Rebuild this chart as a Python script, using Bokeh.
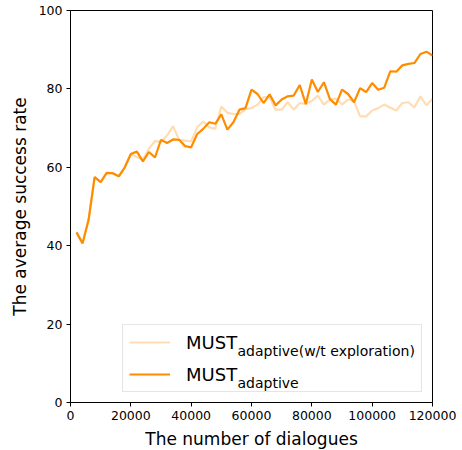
from bokeh.plotting import figure
from bokeh.models import (Range1d, FixedTicker, BasicTickFormatter, Legend,
                          LegendItem, Label)
from bokeh.embed import file_html
from bokeh.resources import INLINE

dialogues = [2000, 4000, 6000, 8000, 10000, 12000, 14000, 16000, 18000, 20000,
             22000, 24000, 26000, 28000, 30000, 32000, 34000, 36000, 38000, 40000,
             42000, 44000, 46000, 48000, 50000, 52000, 54000, 56000, 58000, 60000,
             62000, 64000, 66000, 68000, 70000, 72000, 74000, 76000, 78000, 80000,
             82000, 84000, 86000, 88000, 90000, 92000, 94000, 96000, 98000, 100000,
             102000, 104000, 106000, 108000, 110000, 112000, 114000, 116000, 118000, 120000]

must_adaptive = [43.4, 40.6, 46.6, 57.5, 56.2, 58.6, 58.5, 57.7, 60.0, 63.4,
                 64.0, 61.5, 63.9, 62.5, 67.0, 66.2, 67.1, 67.0, 65.4, 65.1,
                 68.5, 69.8, 71.5, 71.1, 73.5, 69.6, 71.5, 74.7, 75.1, 79.8,
                 78.7, 76.4, 78.6, 75.8, 77.3, 78.1, 78.3, 81.0, 76.1, 82.4,
                 79.2, 81.7, 77.4, 76.0, 79.8, 78.7, 76.6, 80.2, 79.2, 81.5,
                 79.8, 80.3, 84.5, 84.4, 86.0, 86.4, 86.6, 88.9, 89.5, 88.5]

must_no_explore = [43.4, 40.6, 46.6, 57.6, 56.2, 58.5, 58.5, 57.7, 60.0, 63.4,
                   62.6, 62.0, 64.7, 66.7, 66.5, 68.1, 70.5, 67.0, 66.8, 66.6,
                   70.2, 71.7, 70.2, 69.8, 75.5, 73.9, 73.6, 73.6, 74.8, 75.1,
                   76.0, 77.9, 77.9, 74.7, 74.7, 76.6, 74.7, 76.4, 76.2, 76.9,
                   78.3, 76.0, 77.3, 77.5, 76.0, 77.3, 76.9, 73.0, 73.0, 74.5,
                   75.1, 76.0, 75.2, 74.5, 76.4, 76.6, 75.3, 78.1, 75.8, 77.5]

x_ticks = [0, 20000, 40000, 60000, 80000, 100000, 120000]
y_ticks = [0, 20, 40, 60, 80, 100]
legend_main = "MUST"
legend_subs = ["adaptive(w/t exploration)", "adaptive"]
x_label = "The number of dialogues"
y_label = "The average success rate"

ORANGE = "#ff8c00"
FONT = "DejaVu Sans"

p = figure(width=462, height=450, frame_width=362, frame_height=392,
           min_border_left=70, min_border_right=30, min_border_top=10,
           min_border_bottom=48, output_backend="svg", toolbar_location=None,
           x_range=Range1d(0, 120000), y_range=Range1d(0, 100))

p.grid.visible = False
p.outline_line_color = "black"
p.outline_line_width = 1
p.outline_line_alpha = 1

for ax in (p.xaxis[0], p.yaxis[0]):
    ax.axis_line_color = "black"
    ax.major_tick_line_color = "black"
    ax.major_tick_out = 4
    ax.major_tick_in = 0
    ax.minor_tick_line_color = None
    ax.major_label_text_font = FONT
    ax.major_label_text_font_size = "12.5px"
    ax.major_label_text_color = "black"
    ax.major_label_standoff = 4
    ax.axis_label_text_font = FONT
    ax.axis_label_text_font_size = "17px"
    ax.axis_label_text_font_style = "normal"
    ax.axis_label_text_color = "black"
    ax.axis_label_standoff = 6

p.xaxis.ticker = FixedTicker(ticks=x_ticks)
p.yaxis.ticker = FixedTicker(ticks=y_ticks)
p.xaxis.formatter = BasicTickFormatter(use_scientific=False)
p.xaxis.axis_label = x_label
p.yaxis.axis_label = y_label

r_light = p.line(dialogues, must_no_explore, line_color=ORANGE, line_alpha=0.3,
                 line_width=2.2)
r_dark = p.line(dialogues, must_adaptive, line_color=ORANGE, line_width=2.2)

legend = Legend(items=[LegendItem(label=legend_main, renderers=[r_light]),
                       LegendItem(label=legend_main, renderers=[r_dark])],
                location=(52, 10), orientation="vertical",
                padding=6, spacing=10, margin=0,
                glyph_width=41, glyph_height=22, label_standoff=16,
                label_width=229, label_height=22,
                label_text_font=FONT, label_text_font_size="18px",
                label_text_color="black", label_text_baseline="middle",
                border_line_color="#cccccc", border_line_width=1,
                background_fill_color=None, background_fill_alpha=0)
p.add_layout(legend)

sub_y = [52, 20]
for txt, yy in zip(legend_subs, sub_y):
    p.add_layout(Label(x=167, y=yy, x_units="screen", y_units="screen",
                       text=txt, text_font=FONT, text_font_size="14px",
                       text_color="black", text_baseline="alphabetic",
                       text_align="left", level="overlay"))

open("out.html", "w").write(file_html(p, INLINE))
